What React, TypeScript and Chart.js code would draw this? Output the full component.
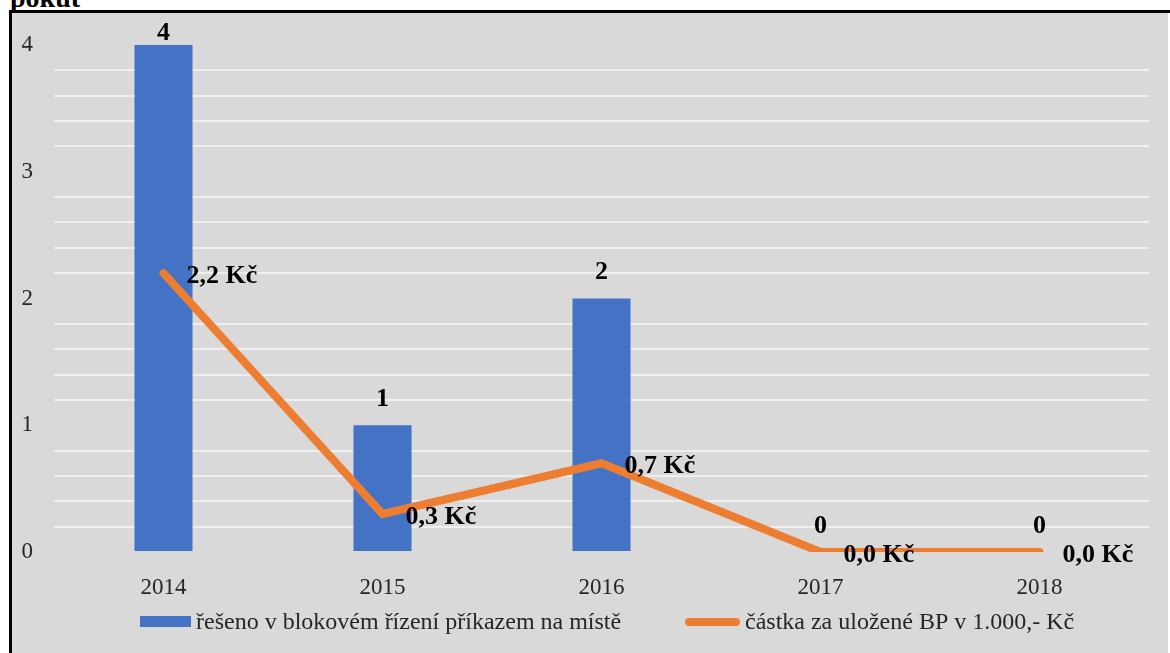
import React, { useEffect, useRef } from "react";
import { Chart, registerables } from "chart.js";

Chart.register(...registerables);

const categories = ["2014", "2015", "2016", "2017", "2018"];
const countValues = [4, 1, 2, 0, 0];
const amountValues = [2.2, 0.3, 0.7, 0.0, 0.0];
const seriesNames = [
  "řešeno v blokovém řízení příkazem na místě",
  "částka za uložené BP v 1.000,- Kč",
];
const titleText = "pokut";

const BLUE = "#4472C4";
const ORANGE = "#ED7D31";
const SERIF = '"Liberation Serif", "Times New Roman", serif';
const TEXT = "#262626";

const isInt = (v: number) => Math.abs(v - Math.round(v)) < 1e-6;
const fmtAmount = (v: number) => v.toFixed(1).replace(".", ",") + " Kč";

const backgroundPlugin = {
  id: "bgBox",
  beforeDraw(chart: any) {
    const { ctx, width, height } = chart;
    ctx.save();
    ctx.fillStyle = "#d9d9d9";
    ctx.fillRect(12, 13, width - 14, height - 13);
    ctx.fillStyle = "#000";
    ctx.fillRect(9, 10, 3, height - 10);
    ctx.fillRect(9, 10, width - 9, 3);
    ctx.restore();
  },
};

const labelsPlugin = {
  id: "valueLabels",
  afterDatasetsDraw(chart: any) {
    const { ctx } = chart;
    ctx.save();
    ctx.font = `bold 26px ${SERIF}`;
    ctx.fillStyle = "#000";
    ctx.textBaseline = "middle";
    const barMeta = chart.getDatasetMeta(1);
    ctx.textAlign = "center";
    barMeta.data.forEach((el: any, i: number) => {
      const y = Math.max(el.y - 26, 33);
      ctx.fillText(String(countValues[i]), el.x, y);
    });
    const lineMeta = chart.getDatasetMeta(0);
    ctx.textAlign = "left";
    lineMeta.data.forEach((pt: any, i: number) => {
      ctx.fillText(fmtAmount(amountValues[i]), pt.x + 23, pt.y + 3);
    });
    ctx.restore();
  },
};

const legendPlugin = {
  id: "customLegend",
  afterDraw(chart: any) {
    const { ctx } = chart;
    ctx.save();
    const yMid = 622;
    ctx.fillStyle = BLUE;
    ctx.fillRect(140, 616, 51, 11);
    ctx.font = `24px ${SERIF}`;
    ctx.fillStyle = TEXT;
    ctx.textBaseline = "middle";
    ctx.textAlign = "left";
    ctx.fillText(seriesNames[0], 196, yMid + 1);
    ctx.strokeStyle = ORANGE;
    ctx.lineWidth = 8;
    ctx.lineCap = "round";
    ctx.beginPath();
    ctx.moveTo(689, yMid);
    ctx.lineTo(736, yMid);
    ctx.stroke();
    ctx.fillText(seriesNames[1], 745, yMid + 1);
    ctx.restore();
  },
};

export default function App() {
  const canvasRef = useRef<HTMLCanvasElement | null>(null);

  useEffect(() => {
    if (!canvasRef.current) return;
    const chart = new Chart(canvasRef.current, {
      type: "bar",
      data: {
        labels: categories,
        datasets: [
          {
            type: "line",
            label: seriesNames[1],
            data: amountValues,
            borderColor: ORANGE,
            backgroundColor: ORANGE,
            borderWidth: 8,
            pointRadius: 0,
            borderCapStyle: "round",
            tension: 0,
            order: 0,
          } as any,
          {
            type: "bar",
            label: seriesNames[0],
            data: countValues,
            backgroundColor: BLUE,
            borderWidth: 0,
            barPercentage: 0.265,
            categoryPercentage: 1,
            order: 1,
          },
        ],
      },
      options: {
        responsive: false,
        animation: false,
        layout: { padding: { left: 12, right: 21, top: 45, bottom: 51 } },
        plugins: {
          legend: { display: false },
          tooltip: { enabled: false },
          title: { display: false },
        },
        scales: {
          x: {
            grid: { display: false },
            border: { display: false },
            ticks: {
              font: { family: SERIF, size: 23 },
              color: TEXT,
              padding: 14,
            },
            afterFit(s: any) {
              s.height = 50;
            },
          },
          y: {
            min: 0,
            max: 4,
            border: { display: false },
            grid: {
              drawTicks: false,
              lineWidth: 2,
              color: (c: any) =>
                c.tick && isInt(c.tick.value) ? "rgba(0,0,0,0)" : "#efefef",
            },
            ticks: {
              stepSize: 0.2,
              autoSkip: false,
              padding: 21,
              font: { family: SERIF, size: 23 },
              color: TEXT,
              callback: (v: any) => (isInt(Number(v)) ? String(Math.round(Number(v))) : ""),
            },
            afterFit(s: any) {
              s.width = 42;
            },
          },
        },
      },
      plugins: [backgroundPlugin, labelsPlugin, legendPlugin],
    });
    return () => chart.destroy();
  }, []);

  return (
    <div style={{ position: "fixed", left: 0, top: 0, width: 1170, height: 653, background: "#fff", overflow: "hidden" }}>
      <div
        style={{
          position: "absolute",
          left: 10,
          top: -16,
          fontFamily: SERIF,
          fontWeight: "bold",
          fontSize: 28,
          lineHeight: "28px",
          color: "#000",
        }}
      >
        {titleText}
      </div>
      <canvas
        ref={canvasRef}
        width={1170}
        height={653}
        style={{ position: "absolute", left: 0, top: 0, width: 1170, height: 653, display: "block" }}
      />
    </div>
  );
}
